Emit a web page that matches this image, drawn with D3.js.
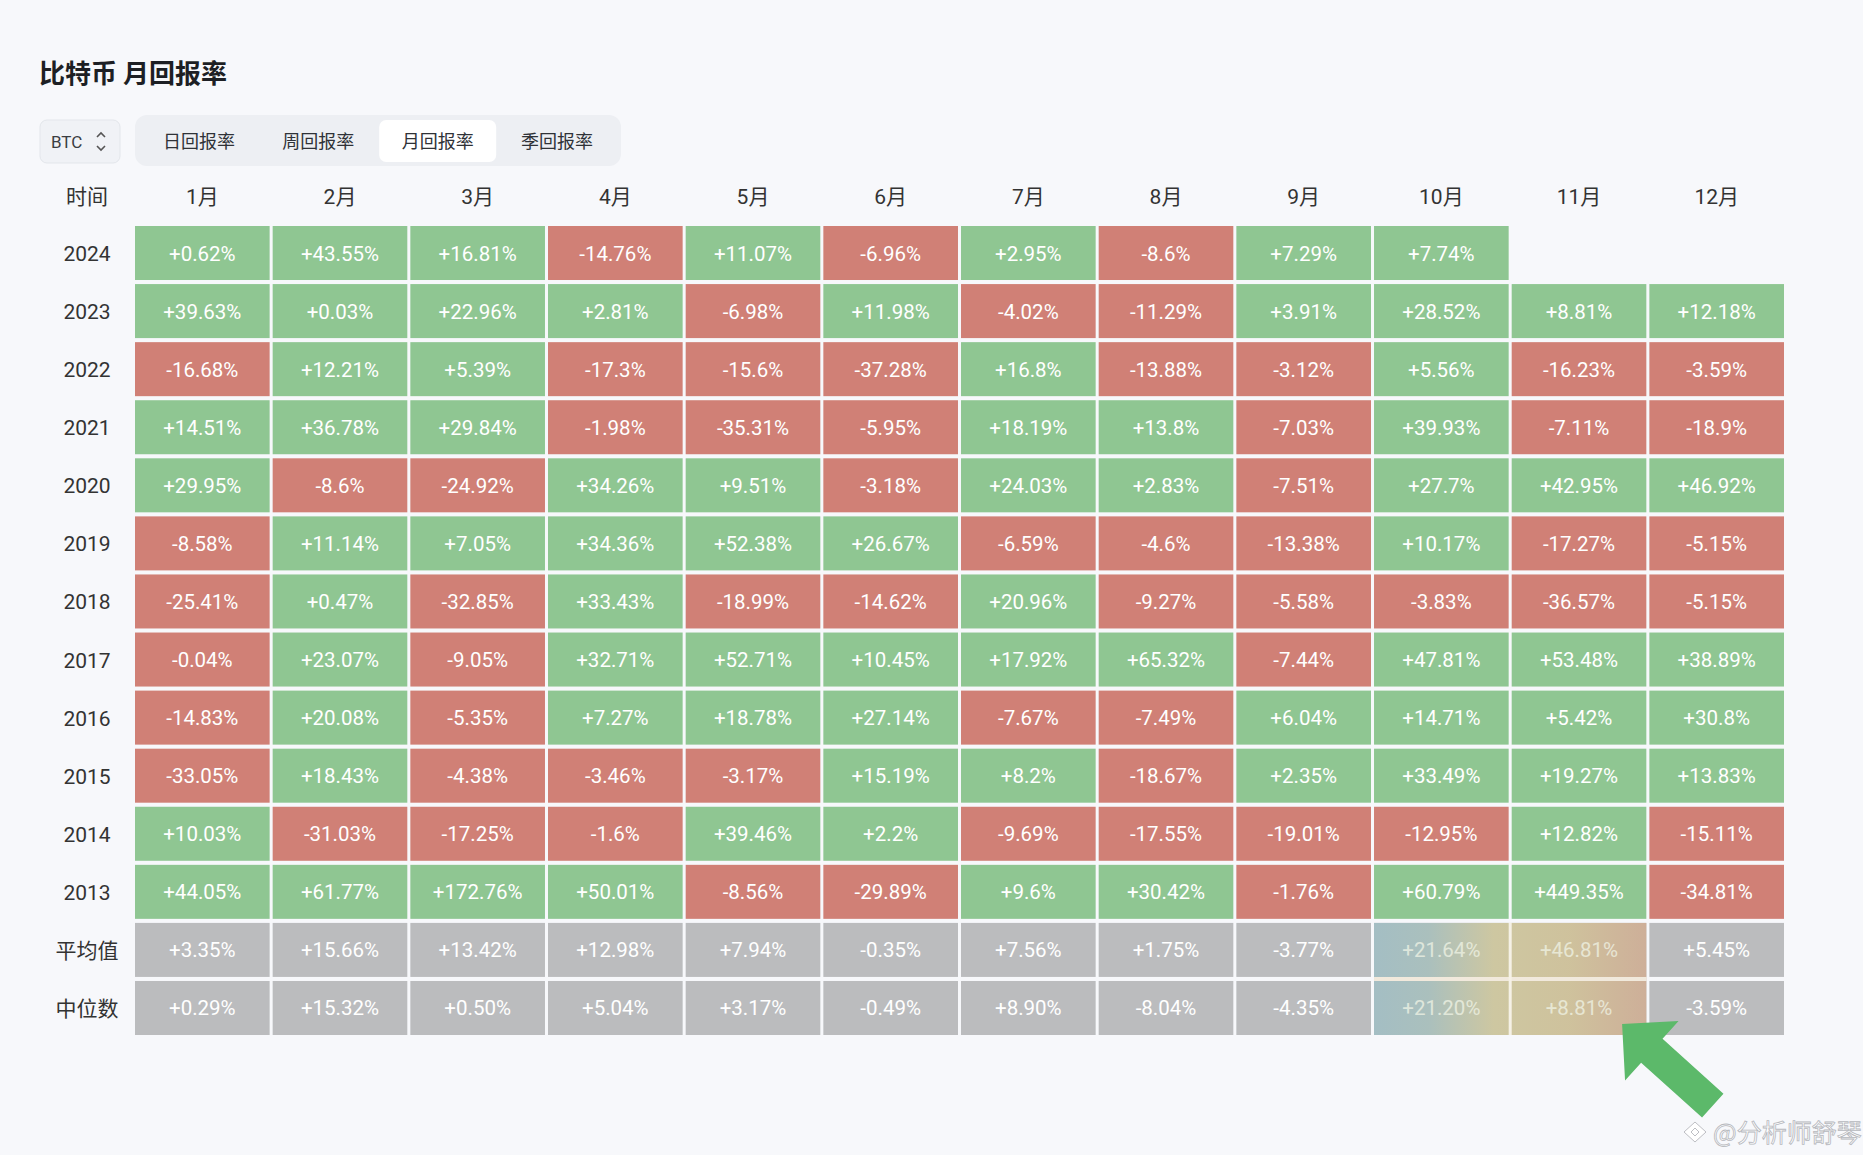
<!DOCTYPE html>
<html>
<head>
<meta charset="utf-8">
<script src="https://cdn.jsdelivr.net/npm/d3@7"></script>
<style>
    html, body { margin: 0; padding: 0; background: #f7f8fb; }
    #heatView { width: 1863px; height: 1155px; }
</style>
</head>
<body>
<div id="heatView"></div>
<script>
// 月份 / 行标签
var months = ['1月', '2月', '3月', '4月', '5月', '6月', '7月', '8月', '9月', '10月', '11月', '12月'];
var years = ['2024', '2023', '2022', '2021', '2020', '2019', '2018', '2017', '2016', '2015', '2014', '2013'];
var statNames = ['平均值', '中位数'];
var tabNames = ['日回报率', '周回报率', '月回报率', '季回报率'];

// 每年各月回报率 (%)，null = 还没有数据
var r2024 = [0.62, 43.55, 16.81, -14.76, 11.07, -6.96, 2.95, -8.6, 7.29, 7.74, null, null];
var r2023 = [39.63, 0.03, 22.96, 2.81, -6.98, 11.98, -4.02, -11.29, 3.91, 28.52, 8.81, 12.18];
var r2022 = [-16.68, 12.21, 5.39, -17.3, -15.6, -37.28, 16.8, -13.88, -3.12, 5.56, -16.23, -3.59];
var r2021 = [14.51, 36.78, 29.84, -1.98, -35.31, -5.95, 18.19, 13.8, -7.03, 39.93, -7.11, -18.9];
var r2020 = [29.95, -8.6, -24.92, 34.26, 9.51, -3.18, 24.03, 2.83, -7.51, 27.7, 42.95, 46.92];
var r2019 = [-8.58, 11.14, 7.05, 34.36, 52.38, 26.67, -6.59, -4.6, -13.38, 10.17, -17.27, -5.15];
var r2018 = [-25.41, 0.47, -32.85, 33.43, -18.99, -14.62, 20.96, -9.27, -5.58, -3.83, -36.57, -5.15];
var r2017 = [-0.04, 23.07, -9.05, 32.71, 52.71, 10.45, 17.92, 65.32, -7.44, 47.81, 53.48, 38.89];
var r2016 = [-14.83, 20.08, -5.35, 7.27, 18.78, 27.14, -7.67, -7.49, 6.04, 14.71, 5.42, 30.8];
var r2015 = [-33.05, 18.43, -4.38, -3.46, -3.17, 15.19, 8.2, -18.67, 2.35, 33.49, 19.27, 13.83];
var r2014 = [10.03, -31.03, -17.25, -1.6, 39.46, 2.2, -9.69, -17.55, -19.01, -12.95, 12.82, -15.11];
var r2013 = [44.05, 61.77, 172.76, 50.01, -8.56, -29.89, 9.6, 30.42, -1.76, 60.79, 449.35, -34.81];
var avgRow = [3.35, 15.66, 13.42, 12.98, 7.94, -0.35, 7.56, 1.75, -3.77, 21.64, 46.81, 5.45];
var medRow = [0.29, 15.32, 0.50, 5.04, 3.17, -0.49, 8.90, -8.04, -4.35, 21.20, 8.81, -3.59];

// 被高亮的月份
var highlightMonths = ['10月', '11月'];

var width = 1863, height = 1155;
var svg = d3.select("#heatView").append("svg")
    .attr("width", width)
    .attr("height", height);

var cjk = "Roboto, 'Noto Sans CJK SC', sans-serif";

// 标题
svg.append('text')
    .text('比特币 月回报率')
    .attr('x', 39)
    .attr('y', 83)
    .attr('font-family', "'Noto Sans CJK SC', sans-serif")
    .attr('font-weight', 700)
    .attr('font-size', 26)
    .attr('fill', '#1d1f24');

// BTC 选择框
svg.append('rect')
    .attr('x', 40).attr('y', 120)
    .attr('width', 80).attr('height', 43)
    .attr('rx', 7)
    .attr('fill', '#f0f2f6')
    .attr('stroke', '#e3e6eb');
svg.append('text')
    .text('BTC')
    .attr('x', 51).attr('y', 148)
    .attr('font-family', cjk)
    .attr('font-size', 17)
    .attr('fill', '#3a3d42');
svg.append('path')
    .attr('d', 'M97,137 L101,133 L105,137 M97,146 L101,150 L105,146')
    .attr('fill', 'none')
    .attr('stroke', '#555')
    .attr('stroke-width', 1.6);

// 切换标签
svg.append('rect')
    .attr('x', 135).attr('y', 115)
    .attr('width', 486).attr('height', 51)
    .attr('rx', 12)
    .attr('fill', '#edeff3');
var tabX = d3.scaleBand().domain(tabNames).range([138, 618]).padding(0.02);
svg.append('rect')
    .attr('x', tabX('月回报率'))
    .attr('y', 120)
    .attr('width', tabX.bandwidth())
    .attr('height', 42)
    .attr('rx', 7)
    .attr('fill', '#ffffff');
svg.selectAll('.tab')
    .data(tabNames)
    .enter()
    .append('text')
    .attr('class', 'tab')
    .text(d => d)
    .attr('x', d => tabX(d) + tabX.bandwidth() / 2)
    .attr('y', 148)
    .attr('text-anchor', 'middle')
    .attr('font-family', cjk)
    .attr('font-size', 18)
    .attr('fill', '#2f3237');

// 表格数据
var yearRows = [r2024, r2023, r2022, r2021, r2020, r2019, r2018, r2017, r2016, r2015, r2014, r2013];
var rowNames = years.concat(statNames);
var cells = [];
yearRows.forEach(function (row, i) {
    row.forEach(function (v, j) {
        if (v === null) return;
        cells.push({ row: years[i], month: months[j], value: v, stat: false });
    });
});
[avgRow, medRow].forEach(function (row, i) {
    row.forEach(function (v, j) {
        cells.push({ row: statNames[i], month: months[j], value: v, stat: true });
    });
});

var x = d3.scaleBand().domain(months).range([135, 1784]).paddingInner(0.022);
var y = d3.scaleBand().domain(rowNames).range([226, 1035]).paddingInner(0.07);

// 表头
svg.append('text')
    .text('时间')
    .attr('x', 87)
    .attr('y', 204)
    .attr('text-anchor', 'middle')
    .attr('font-family', cjk)
    .attr('font-size', 21)
    .attr('fill', '#333');
svg.selectAll('.mhead')
    .data(months)
    .enter()
    .append('text')
    .attr('class', 'mhead')
    .text(d => d)
    .attr('x', d => x(d) + x.bandwidth() / 2)
    .attr('y', 204)
    .attr('text-anchor', 'middle')
    .attr('font-family', cjk)
    .attr('font-size', 21)
    .attr('fill', '#333');
svg.selectAll('.rhead')
    .data(rowNames)
    .enter()
    .append('text')
    .attr('class', 'rhead')
    .text(d => d)
    .attr('x', 87)
    .attr('y', d => y(d) + y.bandwidth() / 2 + 8)
    .attr('text-anchor', 'middle')
    .attr('font-family', cjk)
    .attr('font-size', 21)
    .attr('fill', '#333');

function cellColor(d) {
    if (d.stat) return '#bbbcbe';
    return d.value < 0 ? '#d08076' : '#8fc692';
}
function fmt(d) {
    var s = d.stat ? d.value.toFixed(2) : String(d.value);
    return (d.value >= 0 ? '+' : '') + s + '%';
}

var cg = svg.selectAll('.cell')
    .data(cells)
    .enter()
    .append('g')
    .attr('class', 'cell')
    .attr('transform', d => 'translate(' + x(d.month) + ',' + y(d.row) + ')');
cg.append('rect')
    .attr('width', x.bandwidth())
    .attr('height', y.bandwidth())
    .attr('fill', cellColor);
cg.append('text')
    .text(fmt)
    .attr('x', x.bandwidth() / 2)
    .attr('y', y.bandwidth() / 2 + 7.5)
    .attr('text-anchor', 'middle')
    .attr('font-family', cjk)
    .attr('font-size', 20.5)
    .attr('fill', '#ffffff');

// 10月-11月 统计行的彩色高亮
var defs = svg.append('defs');
var grad = defs.append('linearGradient').attr('id', 'hl');
grad.append('stop').attr('offset', '0%').attr('stop-color', '#a2bec4');
grad.append('stop').attr('offset', '20%').attr('stop-color', '#a9c0bd');
grad.append('stop').attr('offset', '44%').attr('stop-color', '#cfc89f');
grad.append('stop').attr('offset', '72%').attr('stop-color', '#d0c29a');
grad.append('stop').attr('offset', '100%').attr('stop-color', '#cfae96');

var hx0 = x(highlightMonths[0]), hx1 = x(highlightMonths[1]) + x.bandwidth();
var hy0 = y(statNames[0]), hy1 = y(statNames[1]) + y.bandwidth();
svg.append('rect')
    .attr('x', hx0).attr('y', hy0)
    .attr('width', hx1 - hx0).attr('height', hy1 - hy0)
    .attr('fill', 'url(#hl)')
    .attr('opacity', 0.93);
// 高亮下的淡色文字
svg.selectAll('.hltext')
    .data(cells.filter(d => d.stat && highlightMonths.indexOf(d.month) >= 0))
    .enter()
    .append('text')
    .attr('class', 'hltext')
    .text(fmt)
    .attr('x', d => x(d.month) + x.bandwidth() / 2)
    .attr('y', d => y(d.row) + y.bandwidth() / 2 + 7.5)
    .attr('text-anchor', 'middle')
    .attr('font-family', cjk)
    .attr('font-size', 20.5)
    .attr('fill', '#eef2e4')
    .attr('opacity', 0.75);
// 行间和列间的浅色缝
var seamY = (y(statNames[0]) + y.bandwidth() + y(statNames[1])) / 2;
svg.append('line')
    .attr('x1', hx0).attr('x2', hx1)
    .attr('y1', seamY).attr('y2', seamY)
    .attr('stroke', '#f1e9dc')
    .attr('stroke-width', 4);
svg.append('line')
    .attr('x1', x(highlightMonths[1]) - 1.5).attr('x2', x(highlightMonths[1]) - 1.5)
    .attr('y1', hy0).attr('y2', hy1)
    .attr('stroke', '#f5f1e6')
    .attr('stroke-width', 3);

// 绿色箭头指向 11月 中位数
var tx = x('11月') + x.bandwidth() * 0.82, ty = hy1 - 11;
svg.append('g')
    .attr('transform', 'translate(' + tx + ',' + ty + ') rotate(42)')
    .append('path')
    .attr('d', 'M0,0 L40,-40 L40,-16 L122,-16 L122,16 L40,16 L40,40 Z')
    .attr('fill', '#5cb96a');

// 水印
svg.append('text')
    .text('@分析师舒琴')
    .attr('x', 1713)
    .attr('y', 1142)
    .attr('font-family', "'Noto Sans CJK SC', sans-serif")
    .attr('font-size', 25)
    .attr('fill', '#ffffff')
    .attr('stroke', '#b5b7bc')
    .attr('stroke-width', 0.8);
svg.append('path')
    .attr('d', 'M1695,1122 L1706,1132 L1695,1142 L1684,1132 Z M1695,1128 L1699,1132 L1695,1136 L1691,1132 Z')
    .attr('fill', '#ffffff')
    .attr('stroke', '#b5b7bc')
    .attr('stroke-width', 0.9);
</script>
</body>
</html>
